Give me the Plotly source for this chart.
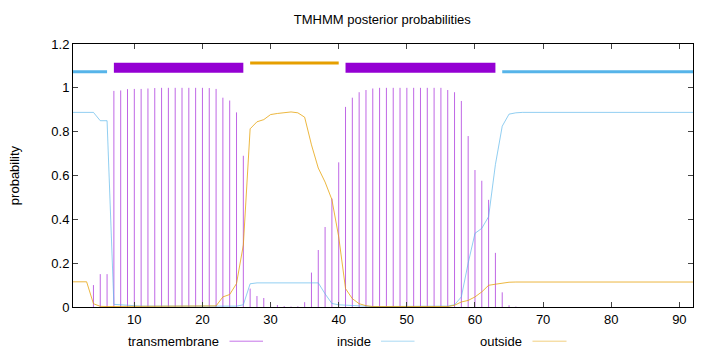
import plotly.graph_objects as go

# ---- data ----
residues = list(range(1, 93))

transmembrane = [
    0.0, 0.0, 0.0, 0.10, 0.15, 0.15, 0.986, 0.988, 0.994, 0.995,
    0.995, 0.997, 0.999, 1.0, 1.0, 1.0, 1.0, 1.0, 1.0, 1.0,
    0.999, 0.995, 0.955, 0.942, 0.888, 0.69, 0.084, 0.05, 0.041, 0.012,
    0.009, 0.004, 0.002, 0.003, 0.022, 0.157, 0.26, 0.365, 0.495, 0.66,
    0.913, 0.955, 0.98, 0.99, 0.997, 1.0, 1.0, 1.0, 1.0, 1.0,
    1.0, 1.0, 1.0, 1.0, 1.0, 0.99, 0.98, 0.94, 0.78, 0.625,
    0.576, 0.489, 0.247, 0.067, 0.008, 0.002, 0.0, 0.0, 0.0, 0.0,
    0.0, 0.0, 0.0, 0.0, 0.0, 0.0, 0.0, 0.0, 0.0, 0.0,
    0.0, 0.0, 0.0, 0.0, 0.0, 0.0, 0.0, 0.0, 0.0, 0.0,
    0.0, 0.0,
]

inside = [
    0.888, 0.888, 0.888, 0.888, 0.85, 0.85, 0.012, 0.010, 0.006, 0.005,
    0.004, 0.004, 0.004, 0.004, 0.004, 0.004, 0.004, 0.004, 0.003, 0.003,
    0.003, 0.003, 0.003, 0.003, 0.004, 0.01, 0.106, 0.11, 0.11, 0.11,
    0.11, 0.11, 0.11, 0.11, 0.11, 0.11, 0.11, 0.06, 0.016, 0.01,
    0.008, 0.006, 0.004, 0.002, 0.002, 0.002, 0.002, 0.002, 0.002, 0.002,
    0.002, 0.002, 0.002, 0.002, 0.002, 0.004, 0.01, 0.046, 0.2, 0.336,
    0.359, 0.412, 0.65, 0.825, 0.88, 0.886, 0.888, 0.888, 0.888, 0.888,
    0.888, 0.888, 0.888, 0.888, 0.888, 0.888, 0.888, 0.888, 0.888, 0.888,
    0.888, 0.888, 0.888, 0.888, 0.888, 0.888, 0.888, 0.888, 0.888, 0.888,
    0.888, 0.888,
]

outside = [
    0.115, 0.115, 0.115, 0.015, 0.003, 0.002, 0.002, 0.002, 0.002, 0.002,
    0.002, 0.002, 0.002, 0.002, 0.002, 0.002, 0.002, 0.002, 0.002, 0.002,
    0.002, 0.005, 0.046, 0.057, 0.107, 0.283, 0.813, 0.845, 0.855, 0.878,
    0.883, 0.886, 0.89, 0.886, 0.866, 0.74, 0.634, 0.57, 0.49, 0.32,
    0.084, 0.038, 0.015, 0.006, 0.002, 0.002, 0.002, 0.002, 0.002, 0.002,
    0.002, 0.002, 0.002, 0.002, 0.002, 0.002, 0.008, 0.023, 0.03, 0.046,
    0.069, 0.099, 0.104, 0.11, 0.113, 0.114, 0.114, 0.114, 0.114, 0.114,
    0.114, 0.114, 0.114, 0.114, 0.114, 0.114, 0.114, 0.114, 0.114, 0.114,
    0.114, 0.114, 0.114, 0.114, 0.114, 0.114, 0.114, 0.114, 0.114, 0.114,
    0.114, 0.114,
]

# predicted topology segments (label, start, end)
topology_labels = ["inside", "TMhelix", "outside", "TMhelix", "inside"]
topology_start = [1, 7, 27, 41, 64]
topology_end = [6, 26, 40, 63, 92]

x_ticks = [10, 20, 30, 40, 50, 60, 70, 80, 90]
y_ticks = [0, 0.2, 0.4, 0.6, 0.8, 1.0, 1.2]
y_tick_text = ["0", "0.2", "0.4", "0.6", "0.8", "1", "1.2"]

title_text = "TMHMM posterior probabilities"
y_title = "probability"
legend_names = ["transmembrane", "inside", "outside"]

# ---- styles ----
C_TM = "#9400d3"
C_IN = "#56b4e9"
C_OUT = "#e69f00"
FONT = "Liberation Sans, Arial, sans-serif"

seg_style = {
    "inside": dict(color=C_IN, width=3, level=1.073),
    "outside": dict(color=C_OUT, width=3, level=1.113),
    "TMhelix": dict(color=C_TM, width=10, level=1.092),
}

fig = go.Figure()

# impulses for transmembrane
ix, iy = [], []
for r, v in zip(residues, transmembrane):
    ix += [r, r, None]
    iy += [0, v, None]
fig.add_trace(go.Scatter(x=ix, y=iy, mode="lines",
                         line=dict(color="rgba(148,0,211,0.6)", width=1),
                         showlegend=False, hoverinfo="skip"))

fig.add_trace(go.Scatter(x=residues, y=inside, mode="lines",
                         line=dict(color="rgba(86,180,233,0.65)", width=1),
                         showlegend=False))
fig.add_trace(go.Scatter(x=residues, y=outside, mode="lines",
                         line=dict(color="rgba(230,159,0,0.75)", width=1),
                         showlegend=False))

# topology bars
for lab, s, e in zip(topology_labels, topology_start, topology_end):
    st = seg_style[lab]
    fig.add_trace(go.Scatter(x=[s, e], y=[st["level"], st["level"]], mode="lines",
                             line=dict(color=st["color"], width=st["width"]),
                             showlegend=False, hoverinfo="skip"))

# custom legend (text followed by line sample), gnuplot style
W, L, R = 720, 73, 27
pw = W - L - R
def px(x):
    return (x - L) / pw

legend_text_right = [221, 372.5, 524]
legend_sample = [(229.5, 263), (381, 414.5), (532.5, 566.5)]
legend_colors = ["rgba(148,0,211,0.55)", "rgba(86,180,233,0.5)", "rgba(230,159,0,0.5)"]
leg_y = -0.13
for name, tr, (a, b), c in zip(legend_names, legend_text_right, legend_sample, legend_colors):
    fig.add_annotation(x=px(tr), y=leg_y, xref="paper", yref="paper", text=name,
                       showarrow=False, xanchor="right", yanchor="middle",
                       font=dict(family=FONT, size=13, color="black"))
    fig.add_shape(type="line", xref="paper", yref="paper", x0=px(a), x1=px(b),
                  y0=leg_y, y1=leg_y, line=dict(color=c, width=1))

fig.update_layout(
    width=720, height=352,
    margin=dict(l=L, r=R, t=44, b=45),
    paper_bgcolor="white", plot_bgcolor="white",
    font=dict(family=FONT, size=13, color="black"),
    title=dict(text=title_text, x=0.531, xanchor="center", y=0.945, yanchor="middle",
               font=dict(family=FONT, size=13, color="black")),
    showlegend=False,
)
fig.update_xaxes(range=[1, 92], tickvals=x_ticks, ticks="inside", ticklen=5,
                 showline=True, linecolor="black", linewidth=1, mirror="ticks",
                 showgrid=False, zeroline=False, tickfont=dict(size=13))
fig.update_yaxes(range=[0, 1.2], tickvals=y_ticks, ticktext=y_tick_text,
                 ticks="inside", ticklen=5,
                 showline=True, linecolor="black", linewidth=1, mirror="ticks",
                 showgrid=False, zeroline=False, tickfont=dict(size=13),
                 title=dict(text=y_title, standoff=28, font=dict(size=13)))

fig.write_html("out.html")
